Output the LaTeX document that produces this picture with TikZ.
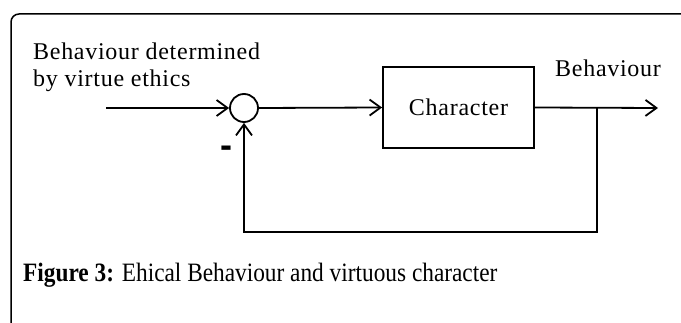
\documentclass[tikz,border=0pt]{standalone}
\usepackage{fontspec}
\setmainfont{Liberation Serif}
\newfontfamily\diagfont[LetterSpace=3]{Liberation Serif}
\newfontfamily\capfont[FakeStretch=0.88]{Liberation Serif}
\newfontfamily\dashfont{Liberation Sans}
\usetikzlibrary{arrows.meta}
\begin{document}
\begin{tikzpicture}[x=1pt,y=-1pt,
  wire/.style={line width=1.8pt},
  arr/.style={wire,-{Straight Barb[length=11pt,width=16pt,line width=1.8pt]}},
  lbl/.style={inner sep=0pt,font=\diagfont\fontsize{24}{27}\selectfont},
  caption/.style={inner sep=0pt,font=\capfont\fontsize{26.5}{30}\selectfont}]
\useasboundingbox (0,0) rectangle (681,323);
\draw[line width=1.5pt,rounded corners=8pt] (11,323) -- (11,14) -- (681,14);
% texts
\node[lbl,anchor=base west] (in1) at (33,60) {Behaviour determined};
\node[lbl,anchor=base west] (in2) at (33,87) {by virtue ethics};
\node[lbl,anchor=base west] (outl) at (555,77) {Behaviour};
% blocks
\node[circle,draw,line width=1.8pt,minimum size=28pt,inner sep=0pt] (sum) at (244,108) {};
\node[draw,line width=1.8pt,minimum width=151pt,minimum height=81pt,inner sep=0pt,font=\diagfont\fontsize{24}{27}\selectfont] (box) at (458.5,107.5) {Character};
\node[inner sep=0pt,font=\dashfont\bfseries\fontsize{36}{36}\selectfont] (minus) at (226,152) {-};
% connectors
\coordinate (src) at (106,108);
\coordinate (dst) at (658,108);
\coordinate (branch) at (597,108);
\coordinate (fbr) at (597,232);
\draw[arr] (src) -- (sum.west);
\draw[arr] (sum.east) -- (box.west);
\draw[arr] (box.east) -- (dst);
\draw[arr] (branch) -- (fbr) -| (sum.south);
% caption
\node[caption,anchor=base west] (cap) at (23,282) {\textbf{Figure 3:} Ehical Behaviour and virtuous character};
\end{tikzpicture}
\end{document}
